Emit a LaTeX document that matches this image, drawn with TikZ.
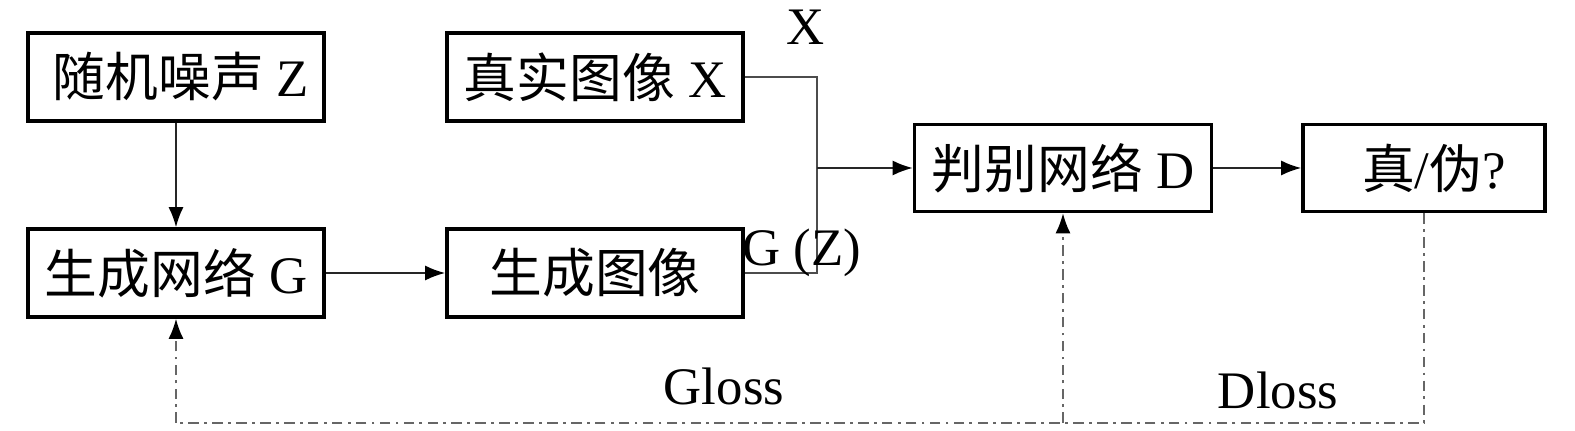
\documentclass[tikz,border=0pt]{standalone}
\usepackage{fontspec}
\setmainfont{Liberation Serif}
\newfontfamily\cjk{Noto Sans CJK SC}
\usepackage{tikz}
\usetikzlibrary{arrows.meta}

\tikzset{
  box/.style={draw=black, line width=1pt, minimum width=2.96cm, minimum height=0.88cm, inner sep=0pt, font=\fontsize{15}{17}\selectfont},
  tip/.style={-{Latex[length=0.2cm,width=0.15cm,fill=black,color=black]}},
  link/.style={draw=black!85, line width=0.5pt, tip},
  wire/.style={draw=black!70, line width=0.5pt},
  loss/.style={draw=black!60, line width=0.5pt, dash pattern=on 3pt off 1.5pt on 0.8pt off 1.5pt},
  lbl/.style={inner sep=0pt, font=\fontsize{15}{17}\selectfont}
}

\begin{document}
\begin{tikzpicture}[x=0.01cm, y=-0.01cm]
\useasboundingbox (0,0) rectangle (1575,431);
%boxes
\node[box] (noise) at (176,77) {\hspace{0.1cm}{\cjk 随机噪声} Z};
\node[box] (real) at (595,77) {{\cjk 真实图像} X};
\node[box] (gen) at (176,273) {{\cjk 生成网络} G};
\node[box] (fake) at (595,273) {{\cjk 生成图像}};
\node[box, minimum width=2.97cm, minimum height=0.87cm] (disc) at (1063,168) {{\cjk 判别网络} D};
\node[box, minimum width=2.42cm, minimum height=0.87cm] (out) at (1424,168) {\hspace{0.2cm}{\cjk 真}/{\cjk 伪}?};
%junction points
\coordinate (j) at (817,168);
\coordinate (gl) at (176,423);
\coordinate (dl) at (1063,423);
\coordinate (ol) at (1424,423);
%solid connectors
\draw[link] (noise) -- (gen);
\draw[link] (gen) -- (fake);
\draw[wire] (real.east) -| (j);
\draw[wire] (fake.east) -| (j);
\draw[link] (j) -- (disc);
\draw[link] (disc) -- (out);
%loss feedback
\draw[loss] (out.south) -- (ol) -- (gl);
\draw[loss, tip] (gl) -- (gen.south);
\draw[loss, tip] (dl) -- (disc.south);
%labels
\node[lbl] (xlab) at (806,27) {X};
\node[lbl] (gzlab) at (802,253) {G (Z)};
\node[lbl] (glab) at (724,386) {Gloss};
\node[lbl] (dlab) at (1278,390) {Dloss};
\end{tikzpicture}
\end{document}
